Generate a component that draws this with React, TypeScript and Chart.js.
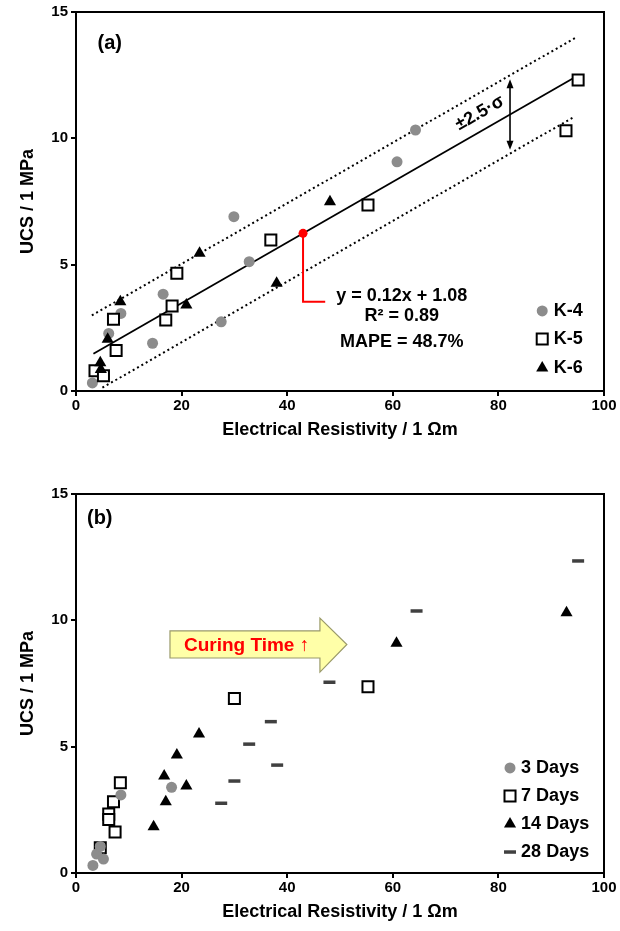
import React, { useEffect, useRef } from "react";
import { Chart, registerables } from "chart.js";

Chart.register(...registerables);

const FONT = '"Liberation Sans", Arial, Helvetica, sans-serif';

// ---------- Panel (a): UCS vs. electrical resistivity, grouped by mix ----------
const k4Resistivity = [3.1, 6.2, 8.5, 14.5, 16.5, 27.5, 29.9, 32.8, 60.8, 64.3];
const k4Ucs = [0.32, 2.28, 3.07, 1.89, 3.83, 2.74, 6.9, 5.12, 9.07, 10.33];

const k5Resistivity = [3.6, 5.2, 7.1, 7.6, 17.0, 18.2, 19.1, 36.9, 55.3, 92.8, 95.1];
const k5Ucs = [0.8, 0.6, 2.84, 1.6, 2.81, 3.36, 4.66, 5.98, 7.36, 10.3, 12.31];

const k6Resistivity = [4.6, 4.7, 6.0, 8.4, 20.9, 23.4, 38.0, 48.1];
const k6Ucs = [1.12, 0.85, 2.05, 3.53, 3.4, 5.45, 4.26, 7.49];

// Linear fit and its scatter band
const FIT_SLOPE = 0.12;
const FIT_INTERCEPT = 1.08;
const FIT_R2 = 0.89;
const FIT_MAPE = 48.7;
const SIGMA = 0.62;
const BAND_K = 2.5;
const FIT_RANGE = [3.3, 94];
const UPPER_RANGE = [3.0, 94.5];
const LOWER_RANGE = [5.0, 94.4];
const FIT_MARK_X = 43;

// ---------- Panel (b): the same tests grouped by curing time ----------
const day3Resistivity = [3.2, 3.9, 4.6, 5.2, 8.5, 18.1];
const day3Ucs = [0.3, 0.75, 1.05, 0.55, 3.09, 3.39];

const day7Resistivity = [4.6, 6.2, 6.2, 7.1, 7.4, 8.4, 30.0, 55.3];
const day7Ucs = [1.0, 2.33, 2.12, 2.82, 1.62, 3.57, 6.91, 7.37];

const day14Resistivity = [14.7, 16.7, 17.0, 19.1, 20.9, 23.3, 60.7, 92.9];
const day14Ucs = [1.83, 3.84, 2.82, 4.67, 3.44, 5.5, 9.09, 10.3];

const day28Resistivity = [27.5, 30.0, 32.8, 36.9, 38.1, 48.0, 64.5, 95.1];
const day28Ucs = [2.76, 3.64, 5.1, 5.99, 4.27, 7.55, 10.37, 12.35];

// Axis ticks
const X_TICKS = [0, 20, 40, 60, 80, 100];
const Y_TICKS = [0, 5, 10, 15];

const X_TITLE = "Electrical Resistivity / 1 \u03A9m";
const Y_TITLE = "UCS / 1 MPa";

// ---------- marker styles ----------
type Marker = {
  pointStyle: "circle" | "rect" | "triangle" | "line";
  radius: number;
  fill: string;
  stroke: string;
  borderWidth: number;
};

const CIRCLE: Marker = { pointStyle: "circle", radius: 5.5, fill: "#8c8c8c", stroke: "#8c8c8c", borderWidth: 0 };
const SQUARE: Marker = { pointStyle: "rect", radius: 7.8, fill: "#ffffff", stroke: "#000000", borderWidth: 2 };
const TRIANGLE: Marker = { pointStyle: "triangle", radius: 7, fill: "#000000", stroke: "#000000", borderWidth: 0 };
const DASH: Marker = { pointStyle: "line", radius: 6, fill: "#404040", stroke: "#404040", borderWidth: 3.5 };

type Pt = { x: number; y: number };
const toPoints = (xs: number[], ys: number[]): Pt[] => xs.map((x, i) => ({ x, y: ys[i] }));
const fitY = (x: number) => FIT_SLOPE * x + FIT_INTERCEPT;
const BAND = BAND_K * SIGMA;

function scatterSet(label: string, data: Pt[], m: Marker, order: number) {
  return {
    label,
    data,
    order,
    showLine: false,
    pointStyle: m.pointStyle,
    pointRadius: m.radius,
    pointHoverRadius: m.radius,
    pointBackgroundColor: m.fill,
    pointBorderColor: m.stroke,
    pointBorderWidth: m.borderWidth,
    pointHoverBorderWidth: m.borderWidth,
  };
}

function lineSet(label: string, data: Pt[], dash: number[], order: number) {
  return {
    label,
    data,
    order,
    showLine: true,
    borderColor: "#000000",
    borderWidth: dash.length ? 2 : 1.8,
    borderDash: dash,
    pointRadius: 0,
    pointHoverRadius: 0,
    fill: false,
  };
}

function drawMarker(ctx: CanvasRenderingContext2D, m: Marker, x: number, y: number) {
  const r = m.radius;
  ctx.save();
  ctx.fillStyle = m.fill;
  ctx.strokeStyle = m.stroke;
  ctx.lineWidth = m.borderWidth;
  ctx.beginPath();
  if (m.pointStyle === "circle") {
    ctx.arc(x, y, r, 0, Math.PI * 2);
  } else if (m.pointStyle === "rect") {
    const s = r * Math.SQRT1_2;
    ctx.rect(x - s, y - s, 2 * s, 2 * s);
  } else if (m.pointStyle === "triangle") {
    ctx.moveTo(x, y - r);
    ctx.lineTo(x + r * Math.sin((2 * Math.PI) / 3), y + r * 0.5);
    ctx.lineTo(x - r * Math.sin((2 * Math.PI) / 3), y + r * 0.5);
    ctx.closePath();
  } else {
    ctx.moveTo(x - r, y);
    ctx.lineTo(x + r, y);
  }
  if (m.pointStyle !== "line") ctx.fill();
  if (m.borderWidth > 0) ctx.stroke();
  ctx.restore();
}

function text(
  ctx: CanvasRenderingContext2D,
  s: string,
  x: number,
  y: number,
  size: number,
  align: CanvasTextAlign,
  color = "#000000"
) {
  ctx.save();
  ctx.font = `bold ${size}px ${FONT}`;
  ctx.fillStyle = color;
  ctx.textAlign = align;
  ctx.textBaseline = "middle";
  ctx.fillText(s, x, y);
  ctx.restore();
}

function mapper(chart: Chart) {
  const xs = chart.scales.x;
  const ys = chart.scales.y;
  return {
    px: (v: number) => xs.getPixelForValue(v),
    py: (v: number) => ys.getPixelForValue(v),
  };
}

// ---------- overlays ----------
function drawPanelA(chart: Chart) {
  const ctx = chart.ctx;
  const { px, py } = mapper(chart);

  text(ctx, "(a)", px(6.4), py(13.77), 20, "center");

  // red leader from the marked point on the fit line to the equation
  ctx.save();
  ctx.strokeStyle = "#ff0000";
  ctx.lineWidth = 2;
  ctx.beginPath();
  ctx.moveTo(px(FIT_MARK_X), py(fitY(FIT_MARK_X)));
  ctx.lineTo(px(FIT_MARK_X), py(3.53));
  ctx.lineTo(px(47.2), py(3.53));
  ctx.stroke();
  ctx.restore();

  text(ctx, `y = ${FIT_SLOPE.toFixed(2)}x + ${FIT_INTERCEPT.toFixed(2)}`, px(61.7), py(3.76), 18, "center");
  text(ctx, `R\u00B2 = ${FIT_R2.toFixed(2)}`, px(61.7), py(2.97), 18, "center");
  text(ctx, `MAPE = ${FIT_MAPE.toFixed(1)}%`, px(61.7), py(1.94), 18, "center");

  // double arrow spanning the band
  const ax = px(82.2);
  const yTop = py(fitY(82.2) + BAND) + 4;
  const yBot = py(fitY(82.2) - BAND) - 4;
  ctx.save();
  ctx.strokeStyle = "#000000";
  ctx.fillStyle = "#000000";
  ctx.lineWidth = 1.6;
  ctx.beginPath();
  ctx.moveTo(ax, yTop + 6);
  ctx.lineTo(ax, yBot - 6);
  ctx.stroke();
  ctx.beginPath();
  ctx.moveTo(ax, yTop);
  ctx.lineTo(ax + 3.5, yTop + 9);
  ctx.lineTo(ax - 3.5, yTop + 9);
  ctx.closePath();
  ctx.fill();
  ctx.beginPath();
  ctx.moveTo(ax, yBot);
  ctx.lineTo(ax + 3.5, yBot - 9);
  ctx.lineTo(ax - 3.5, yBot - 9);
  ctx.closePath();
  ctx.fill();
  ctx.restore();

  // band label, laid along the fit line
  const ang = Math.atan2(py(fitY(90)) - py(fitY(10)), px(90) - px(10));
  ctx.save();
  ctx.translate(px(76.5), py(11.0));
  ctx.rotate(ang);
  ctx.font = `bold 18px ${FONT}`;
  ctx.fillStyle = "#000000";
  ctx.textAlign = "center";
  ctx.textBaseline = "middle";
  ctx.fillText(`\u00B1${BAND_K.toFixed(1)}\u00B7\u03C3`, 0, 0);
  ctx.restore();

  // legend
  const items: [Marker, string, number][] = [
    [CIRCLE, "K-4", 3.17],
    [SQUARE, "K-5", 2.06],
    [TRIANGLE, "K-6", 0.91],
  ];
  for (const [m, label, y] of items) {
    drawMarker(ctx, m, px(88.3), py(y));
    text(ctx, label, px(90.5), py(y), 18, "left");
  }
}

function drawPanelB(chart: Chart) {
  const ctx = chart.ctx;
  const { px, py } = mapper(chart);

  text(ctx, "(b)", px(4.5), py(14.05), 20, "center");

  // "Curing Time" block arrow
  const x0 = px(17.8);
  const x1 = px(46.2);
  const xt = px(51.3);
  const bt = py(9.58);
  const bb = py(8.51);
  const ht = py(10.09);
  const hb = py(7.95);
  const ym = (bt + bb) / 2;
  ctx.save();
  ctx.beginPath();
  ctx.moveTo(x0, bt);
  ctx.lineTo(x1, bt);
  ctx.lineTo(x1, ht);
  ctx.lineTo(xt, ym);
  ctx.lineTo(x1, hb);
  ctx.lineTo(x1, bb);
  ctx.lineTo(x0, bb);
  ctx.closePath();
  ctx.fillStyle = "#ffffa8";
  ctx.fill();
  ctx.strokeStyle = "#9a9a6a";
  ctx.lineWidth = 1.2;
  ctx.stroke();
  ctx.restore();
  text(ctx, "Curing Time \u2191", px(32.3), ym + 1, 19, "center", "#ff0000");

  const items: [Marker, string, number][] = [
    [CIRCLE, "3 Days", 4.16],
    [SQUARE, "7 Days", 3.05],
    [TRIANGLE, "14 Days", 1.94],
    [DASH, "28 Days", 0.83],
  ];
  for (const [m, label, y] of items) {
    drawMarker(ctx, m, px(82.2), py(y));
    text(ctx, label, px(84.3), py(y), 18, "left");
  }
}

// ---------- chart factory ----------
const CANVAS_W = 620;
const PLOT_LEFT = 76;
const PLOT_RIGHT = 604;

type PanelSpec = {
  height: number;
  plotTop: number;
  plotBottom: number;
  xTitlePad: number;
  datasets: any[];
  overlay: (chart: Chart) => void;
};

function buildConfig(spec: PanelSpec): any {
  const tickFont = { family: FONT, size: 15, weight: "bold" as const };
  const titleFont = { family: FONT, size: 18, weight: "bold" as const };
  const grid = {
    display: true,
    drawOnChartArea: false,
    drawTicks: true,
    tickLength: 5,
    color: "#000000",
    lineWidth: 2,
  };
  const border = { display: true, color: "#000000", width: 2 };

  return {
    type: "scatter",
    data: { datasets: spec.datasets },
    options: {
      responsive: false,
      animation: false,
      devicePixelRatio: 1,
      layout: {
        padding: { left: 0, right: CANVAS_W - PLOT_RIGHT, top: spec.plotTop, bottom: 0 },
      },
      plugins: { legend: { display: false }, tooltip: { enabled: false } },
      scales: {
        x: {
          type: "linear",
          min: X_TICKS[0],
          max: X_TICKS[X_TICKS.length - 1],
          afterBuildTicks: (s: any) => {
            s.ticks = X_TICKS.map((value) => ({ value }));
          },
          afterFit: (s: any) => {
            s.height = spec.height - spec.plotBottom;
          },
          grid,
          border,
          ticks: { color: "#000000", font: tickFont, padding: 1, maxRotation: 0, autoSkip: false },
          title: {
            display: true,
            text: X_TITLE,
            color: "#000000",
            font: titleFont,
            padding: { top: 0, bottom: spec.xTitlePad },
          },
        },
        y: {
          type: "linear",
          min: Y_TICKS[0],
          max: Y_TICKS[Y_TICKS.length - 1],
          afterBuildTicks: (s: any) => {
            s.ticks = Y_TICKS.map((value) => ({ value }));
          },
          afterFit: (s: any) => {
            s.width = PLOT_LEFT;
          },
          grid,
          border,
          ticks: { color: "#000000", font: tickFont, padding: 3, autoSkip: false },
          title: {
            display: true,
            text: Y_TITLE,
            color: "#000000",
            font: titleFont,
            padding: { top: 17, bottom: 0 },
          },
        },
      },
    },
    plugins: [
      {
        id: "panelOverlay",
        afterDatasetsDraw(chart: Chart) {
          spec.overlay(chart);
        },
        afterDraw(chart: Chart) {
          const { left, top, right, bottom } = chart.chartArea;
          const ctx = chart.ctx;
          ctx.save();
          ctx.strokeStyle = "#000000";
          ctx.lineWidth = 2;
          ctx.strokeRect(left, top, right - left, bottom - top);
          ctx.restore();
        },
      },
    ],
  };
}

const panelA: PanelSpec = {
  height: 465,
  plotTop: 12,
  plotBottom: 391,
  xTitlePad: 24,
  overlay: drawPanelA,
  datasets: [
    {
      label: "fit point",
      data: [{ x: FIT_MARK_X, y: fitY(FIT_MARK_X) }],
      order: 0,
      showLine: false,
      pointStyle: "circle",
      pointRadius: 4.5,
      pointHoverRadius: 4.5,
      pointBackgroundColor: "#ff0000",
      pointBorderWidth: 0,
    },
    scatterSet("K-6", toPoints(k6Resistivity, k6Ucs), TRIANGLE, 1),
    scatterSet("K-5", toPoints(k5Resistivity, k5Ucs), SQUARE, 2),
    scatterSet("K-4", toPoints(k4Resistivity, k4Ucs), CIRCLE, 3),
    lineSet("fit", FIT_RANGE.map((x) => ({ x, y: fitY(x) })), [], 4),
    lineSet("upper", UPPER_RANGE.map((x) => ({ x, y: fitY(x) + BAND })), [2, 3], 4),
    lineSet("lower", LOWER_RANGE.map((x) => ({ x, y: fitY(x) - BAND })), [2, 3], 4),
  ],
};

const panelB: PanelSpec = {
  height: 466,
  plotTop: 29,
  plotBottom: 408,
  xTitlePad: 8,
  overlay: drawPanelB,
  datasets: [
    scatterSet("3 Days", toPoints(day3Resistivity, day3Ucs), CIRCLE, 1),
    scatterSet("7 Days", toPoints(day7Resistivity, day7Ucs), SQUARE, 2),
    scatterSet("14 Days", toPoints(day14Resistivity, day14Ucs), TRIANGLE, 3),
    scatterSet("28 Days", toPoints(day28Resistivity, day28Ucs), DASH, 4),
  ],
};

function Panel({ spec, top }: { spec: PanelSpec; top: number }) {
  const ref = useRef<HTMLCanvasElement>(null);
  useEffect(() => {
    const chart = new Chart(ref.current as HTMLCanvasElement, buildConfig(spec));
    return () => chart.destroy();
  }, [spec]);
  return (
    <canvas
      ref={ref}
      width={CANVAS_W}
      height={spec.height}
      style={{ position: "absolute", left: 0, top, width: CANVAS_W, height: spec.height, display: "block" }}
    />
  );
}

export default function App() {
  return (
    <div
      style={{
        position: "fixed",
        left: 0,
        top: 0,
        width: CANVAS_W,
        height: 931,
        background: "#ffffff",
        overflow: "hidden",
      }}
    >
      <Panel spec={panelA} top={0} />
      <Panel spec={panelB} top={465} />
    </div>
  );
}
